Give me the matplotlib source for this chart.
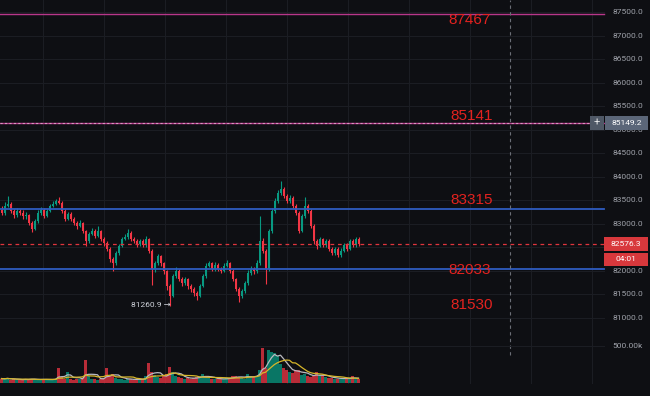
import matplotlib
matplotlib.use('Agg')
import matplotlib.pyplot as plt
import numpy as np
import pandas as pd
from matplotlib.patches import Rectangle

# ---------------- data ----------------
first_open = 83300
closes = [83240, 83390, 83430, 83280, 83190, 83280, 83240, 83170, 83190, 83020,
          82900, 83060, 83240, 83300, 83170, 83280, 83390, 83430, 83490, 83450,
          83280, 83110, 83210, 83110, 83020, 82960, 83020, 82850, 82640, 82790,
          82850, 82750, 82850, 82680, 82600, 82470, 82260, 82170, 82380, 82530,
          82680, 82720, 82810, 82680, 82640, 82570, 82640, 82550, 82680, 82430,
          82040, 82170, 82320, 82170, 82000, 81680, 81470, 81890, 82000, 81830,
          81740, 81830, 81680, 81620, 81530, 81470, 81680, 81890, 82110, 82170,
          82040, 82130, 82040, 82000, 82110, 82170, 82000, 81830, 81620, 81470,
          81570, 81740, 81960, 82040, 82000, 82170, 82640, 82430, 82040, 82850,
          83280, 83490, 83660, 83750, 83600, 83490, 83560, 83390, 83240, 82850,
          83170, 83390, 83280, 82960, 82640, 82530, 82680, 82550, 82640, 82470,
          82380, 82470, 82340, 82430, 82550, 82470, 82640, 82550, 82680, 82576.3]
highs = [83380, 83460, 83600, 83470, 83320, 83330, 83320, 83290, 83260, 83220,
         83060, 83100, 83300, 83360, 83330, 83320, 83430, 83480, 83540, 83580,
         83480, 83310, 83260, 83250, 83140, 83060, 83080, 83050, 82880, 82830,
         82920, 82890, 82950, 82880, 82720, 82640, 82500, 82300, 82420, 82580,
         82720, 82790, 82900, 82840, 82720, 82680, 82690, 82670, 82740, 82700,
         82460, 82220, 82370, 82350, 82200, 82030, 81720, 81940, 82080, 82040,
         81870, 81880, 81860, 81720, 81660, 81570, 81720, 81930, 82160, 82220,
         82200, 82180, 82160, 82080, 82170, 82230, 82200, 82040, 81860, 81650,
         81620, 81790, 82010, 82100, 82080, 82230, 83170, 82700, 82460, 82900,
         83330, 83550, 83720, 83920, 83790, 83640, 83620, 83600, 83420, 83270,
         83220, 83580, 83420, 83310, 83000, 82680, 82730, 82710, 82690, 82680,
         82510, 82520, 82500, 82480, 82600, 82590, 82690, 82680, 82730, 82720]
lows = [83180, 83200, 83350, 83230, 83120, 83150, 83180, 83100, 83110, 82980,
        82830, 82870, 83030, 83200, 83120, 83140, 83250, 83350, 83400, 83420,
        83230, 83060, 83080, 83060, 82970, 82900, 82930, 82800, 82530, 82600,
        82760, 82700, 82720, 82640, 82540, 82420, 82200, 81990, 82130, 82350,
        82500, 82650, 82690, 82630, 82590, 82520, 82540, 82500, 82520, 82380,
        81700, 81980, 82130, 82110, 81940, 81600, 81260.9, 81440, 81850, 81780,
        81690, 81700, 81620, 81560, 81470, 81390, 81440, 81650, 81860, 82080,
        81990, 82000, 81990, 81950, 81970, 82080, 81950, 81780, 81570, 81340,
        81420, 81530, 81710, 81920, 81940, 81960, 82130, 82380, 81720, 82000,
        82800, 83240, 83450, 83620, 83550, 83440, 83450, 83340, 83190, 82800,
        82820, 83130, 83230, 82910, 82580, 82470, 82500, 82500, 82510, 82420,
        82330, 82340, 82300, 82300, 82400, 82430, 82440, 82510, 82520, 82530]
volumes_k = [60, 55, 70, 45, 50, 40, 45, 50, 55, 45,
             60, 50, 40, 45, 50, 55, 45, 40, 60, 200,
             80, 60, 150, 50, 45, 55, 60, 70, 310, 90,
             60, 50, 45, 55, 70, 200, 90, 120, 70, 60,
             50, 45, 55, 60, 40, 45, 50, 55, 90, 270,
             150, 110, 80, 70, 90, 120, 210, 150, 100, 80,
             70, 60, 65, 60, 70, 80, 90, 120, 80, 70,
             60, 55, 50, 60, 55, 65, 70, 90, 100, 80,
             70, 60, 120, 90, 80, 100, 180, 470, 200, 440,
             420, 400, 360, 260, 200, 170, 150, 130, 180, 170,
             110, 120, 90, 80, 100, 150, 100, 90, 80, 70,
             70, 60, 60, 55, 60, 70, 60, 90, 55, 50]
axis_prices = [87500, 87000, 86500, 86000, 85500, 85000, 84500, 84000,
               83500, 83000, 82500, 82000, 81500, 81000]
hidden_axis_prices = [82500]  # fully covered by the last-price / countdown boxes
magenta_levels = [87467, 85149.2]
blue_levels = [83315, 82033]
level_texts = ['87467', '85141', '83315', '82033', '81530']
last_price = 82576.3
crosshair_price = 85149.2
low_mark = 81260.9
countdown = '04:01'
vol_tick_k = 500

# ---------------- layout helpers (pixel -> data) ----------------
W, H = 650, 396
PX_PER_UNIT = 0.04703
Y0_PX, Y0_PRICE = 12.3, 87500

def px2x(px):
    return (px - 1.5) / 3.0

def px2p(py):
    return Y0_PRICE - (py - Y0_PX) / PX_PER_UNIT

BG = '#0e0f13'
GRID = '#1b1d23'
UP = '#089981'
DN = '#f23645'
TXT = '#9ea1a9'
FONT = ['Roboto', 'DejaVu Sans']

fig = plt.figure(figsize=(W / 100, H / 100), dpi=100, facecolor=BG)
ax = fig.add_axes([0, 0, 1, 1])
ax.set_facecolor(BG)
ax.set_xlim(px2x(0), px2x(W))
ax.set_ylim(px2p(H), px2p(0))
ax.axis('off')

xr = 604 / W  # right edge of plotting pane (axes fraction)

# grid
for p in axis_prices:
    ax.axhline(p, xmin=0, xmax=xr, color=GRID, lw=0.8, zorder=0)
for k in range(10):
    ax.axvline(px2x(43 + 61 * k), ymin=(H - 383) / H, ymax=1, color=GRID, lw=0.8, zorder=0)

# candles
n = len(closes)
opens = [first_open] + closes[:-1]
xs = np.arange(n)
for i in range(n):
    o, c, h, l = opens[i], closes[i], highs[i], lows[i]
    col = UP if c >= o else DN
    ax.vlines(i, l, h, color=col, lw=0.8, zorder=3)
    body = max(abs(c - o), 12)
    ax.add_patch(Rectangle((i - 0.33, min(o, c)), 0.66, body, color=col, lw=0, zorder=4))

# horizontal levels
ax.axhline(magenta_levels[0], xmin=0, xmax=xr, color='#b8378a', lw=1.0, zorder=5)
ax.axhline(magenta_levels[1], xmin=0, xmax=xr, color='#b8378a', lw=1.0, zorder=5)
ax.axhline(crosshair_price, xmin=0, xmax=xr, color='#d99ac0', lw=0.8,
           dashes=(2, 2), zorder=6)
for b in blue_levels:
    ax.axhline(b, xmin=0, xmax=xr, color='#2f5cc0', lw=1.3, zorder=5)
ax.axhline(last_price, xmin=0, xmax=xr, color='#e0353d', lw=0.9, dashes=(3, 3), zorder=5)

# vertical crosshair
ax.axvline(px2x(510), ymin=(H - 355) / H, ymax=1, color='#6b6e76', lw=0.8,
           dashes=(3, 3), zorder=6)

# level annotations
text_px = [(448, 20), (450, 116), (450, 200), (448, 270), (450, 305)]
for t, (px, py) in zip(level_texts, text_px):
    ax.text(px2x(px), px2p(py), t, color='#e3221f', fontsize=11,
            family=['Liberation Sans', 'DejaVu Sans'], ha='left', va='center', zorder=8)

# right axis labels
for p in axis_prices:
    if p in hidden_axis_prices:
        continue
    ax.text(px2x(612), p, f'{p:.1f}', color=TXT, fontsize=6, family=FONT,
            ha='left', va='center', zorder=7)

# crosshair price box
ax.add_patch(Rectangle((px2x(590), px2p(129.5)), px2x(604) - px2x(590),
                       px2p(116) - px2p(129.5), color='#4f5866', lw=0, zorder=9))
ax.text(px2x(597), crosshair_price, '+', color='#e8e8ea', fontsize=8, family=FONT,
        ha='center', va='center', zorder=10)
ax.add_patch(Rectangle((px2x(605), px2p(129.5)), px2x(648) - px2x(605),
                       px2p(116) - px2p(129.5), color='#5b6678', lw=0, zorder=9))
ax.text(px2x(626.5), crosshair_price, f'{crosshair_price:.1f}', color='#ffffff',
        fontsize=6, family=FONT, ha='center', va='center', zorder=10)

# last price and countdown boxes
ax.add_patch(Rectangle((px2x(604), px2p(251)), px2x(648) - px2x(604),
                       px2p(237) - px2p(251), color='#d8383c', lw=0, zorder=9))
ax.text(px2x(626), last_price, f'{last_price:.1f}', color='#ffffff',
        fontsize=6, family=FONT, ha='center', va='center', zorder=10)
ax.add_patch(Rectangle((px2x(604), px2p(266)), px2x(648) - px2x(604),
                       px2p(252.5) - px2p(266), color='#d8383c', lw=0, zorder=9))
ax.text(px2x(626), px2p(259), countdown, color='#ffffff',
        fontsize=6, family=FONT, ha='center', va='center', zorder=10)

# low marker
ax.text(px2x(131), px2p(305), f'{low_mark:.1f} →', color='#d1d4dc', fontsize=6,
        family=FONT, ha='left', va='center', zorder=8)

# ---------------- volume pane ----------------
vb_px, vt_px = 383, 300
vax = fig.add_axes([0, (H - vb_px) / H, 1, (vb_px - vt_px) / H])
vax.set_facecolor('none')
vax.set_xlim(px2x(0), px2x(W))
vmax = vol_tick_k * (vb_px - vt_px) / (vb_px - 346)
vax.set_ylim(0, vmax)
vax.axis('off')
vcols = [UP if closes[i] >= opens[i] else DN for i in range(n)]
vax.bar(xs, volumes_k, width=0.7, color=vcols, alpha=0.75, lw=0, zorder=2)
vs = pd.Series(volumes_k, dtype=float)
vax.plot(xs, vs.rolling(5, min_periods=1).mean(), color='#b9b9c0', lw=0.9, zorder=3)
vax.plot(xs, vs.rolling(10, min_periods=1).mean(), color='#d6b62a', lw=0.9, zorder=3)
vax.axhline(vol_tick_k, xmin=0, xmax=xr, color=GRID, lw=0.8, zorder=0)
vax.text(px2x(612), vol_tick_k, '500.00k', color=TXT, fontsize=6, family=FONT,
         ha='left', va='center')

fig.savefig('out.png', dpi=100, facecolor=BG)
